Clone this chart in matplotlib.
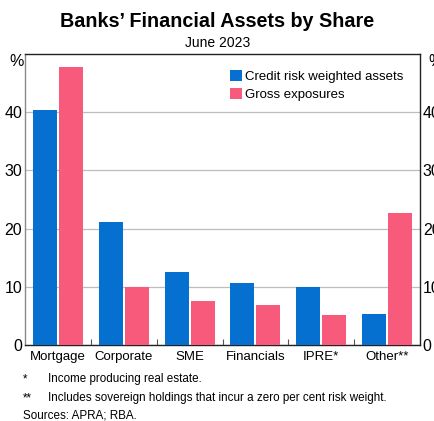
import numpy as np
import matplotlib.pyplot as plt

# Share of banks' financial assets, June 2023 (per cent)
categories = ['Mortgage', 'Corporate', 'SME', 'Financials', 'IPRE*', 'Other**']
credit_rwa = [40.3, 21.1, 12.6, 10.7, 10.0, 5.3]
gross_exp = [47.8, 10.0, 7.6, 6.8, 5.2, 22.7]

blue = '#0670D0'
pink = '#F85A7B'

plt.rcParams['font.family'] = ['Liberation Sans', 'DejaVu Sans']

fig = plt.figure(figsize=(4.35, 4.21), dpi=100)
ax = fig.add_axes([0.0575, 0.1805, 0.908, 0.6912])

x = np.arange(len(categories))
w = 0.365
ax.bar(x - w / 2 - 0.015, credit_rwa, w, color=blue, label='Credit risk weighted assets', zorder=3)
ax.bar(x + w / 2 + 0.015, gross_exp, w, color=pink, label='Gross exposures', zorder=3)

ax.set_xlim(-0.5, len(categories) - 0.5)
ax.set_ylim(0, 50)
ax.set_yticks([0, 10, 20, 30, 40])
ax.yaxis.grid(True, color='#BDBDBD', lw=0.9, zorder=0)
ax.tick_params(axis='y', length=0, labelsize=11.5, pad=2,
               labelleft=True, labelright=True)

# category labels, with small separators between groups
ax.set_xticks(x)
ax.set_xticklabels(categories, fontsize=9.5)
ax.set_xticks(x[:-1] + 0.5, minor=True)
ax.tick_params(axis='x', which='major', length=0, pad=4)
ax.tick_params(axis='x', which='minor', direction='in', length=4, width=0.8,
               color='#555555')

for s in ax.spines.values():
    s.set_linewidth(1.0)
    s.set_color('#222222')
ax.spines['left'].set_color('#8A8A8A')

fig.text(0.021, 0.855, '%', fontsize=11.5, ha='left', va='center')
fig.text(0.984, 0.855, '%', fontsize=11.5, ha='left', va='center')

fig.text(0.5, 0.948, 'Banks\u2019 Financial Assets by Share', ha='center',
         va='center', fontsize=14.2, fontweight='bold')
fig.text(0.5, 0.899, 'June 2023', ha='center', va='center', fontsize=10)

ax.legend(loc='upper left', bbox_to_anchor=(0.519, 0.945), frameon=False,
          fontsize=9.5, handlelength=0.9, handleheight=0.95,
          handletextpad=0.2, labelspacing=0.35, borderpad=0, borderaxespad=0)

fig.text(0.053, 0.092, '*', fontsize=8.4)
fig.text(0.11, 0.092, 'Income producing real estate.', fontsize=8.4)
fig.text(0.053, 0.047, '**', fontsize=8.4)
fig.text(0.11, 0.047, 'Includes sovereign holdings that incur a zero per cent risk weight.', fontsize=8.4)
fig.text(0.053, 0.006, 'Sources: APRA; RBA.', fontsize=8.4)

fig.savefig('out.png', dpi=100)
